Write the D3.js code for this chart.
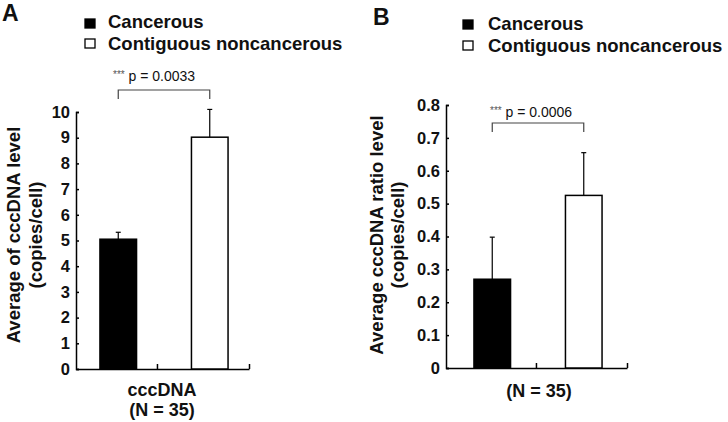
<!DOCTYPE html>
<html>
<head>
<meta charset="utf-8">
<script src="https://cdn.jsdelivr.net/npm/d3@7"></script>
<style>
  body { margin: 0; background: #fff; }
  text { font-family: "Liberation Sans", Arial, sans-serif; fill: #111; }
</style>
</head>
<body>
<svg id="chart"></svg>
<script>
(function() {

    // data
    const groups = ['Cancerous', 'Contiguous noncancerous'];
    const cccdnaMean = [5.05, 9.02];
    const cccdnaErr = [0.27, 1.08];
    const cccdnaTicks = [0, 1, 2, 3, 4, 5, 6, 7, 8, 9, 10];
    const ratioMean = [0.27, 0.525];
    const ratioErr = [0.128, 0.13];
    const ratioTicks = [0, 0.1, 0.2, 0.3, 0.4, 0.5, 0.6, 0.7, 0.8];
    const fills = ['#000', '#fff'];

    const w = 728;
    const h = 422;

    const svg = d3.select('#chart')
        .attr('width', w)
        .attr('height', h);

    const panels = [
        {
            letter: 'A', letterX: 2, letterY: 21,
            legendX: 85, legendY: [19, 39], legendTextX: 108, legendBase: [28, 50],
            means: cccdnaMean, errs: cccdnaErr, ticks: cccdnaTicks, yMax: 10,
            axisX: 76, axisEnd: 249, y0: 369, yTop: 112, midFrac: 0.468,
            bandRange: [72.5, 255.5], tickFmt: d3.format('d'),
            titles: ['Average of cccDNA level', '(copies/cell)'], titleX: [20, 42], titleY: 235,
            pText: 'p = 0.0033', pX: 113, pY: 81, bracketY: 90,
            xLabels: ['cccDNA', '(N = 35)'], xLabelX: 162, xLabelY: [396, 416]
        },
        {
            letter: 'B', letterX: 373, letterY: 25,
            legendX: 463, legendY: [20, 41], legendTextX: 488, legendBase: [30, 52],
            means: ratioMean, errs: ratioErr, ticks: ratioTicks, yMax: 0.8,
            axisX: 446, axisEnd: 627, y0: 368, yTop: 105, midFrac: 0.497,
            bandRange: [446.5, 629.5], tickFmt: d => d === 0 ? '0' : d3.format('.1f')(d),
            titles: ['Average cccDNA ratio level', '(copies/cell)'], titleX: [383, 404], titleY: 235,
            pText: 'p = 0.0006', pX: 490, pY: 117, bracketY: 123,
            xLabels: ['(N = 35)'], xLabelX: 539, xLabelY: [397]
        }
    ];

    panels.forEach(p => {

        const g = svg.append('g');

        // Scales
        const scaleY = d3.scaleLinear().domain([0, p.yMax]).range([p.y0, p.yTop]);
        const scaleX = d3.scaleBand().domain(groups).range(p.bandRange)
            .paddingInner(0.6).paddingOuter(0.3);
        const bw = scaleX.bandwidth();

        // Panel letter
        g.append('text')
            .attr('x', p.letterX).attr('y', p.letterY)
            .style('font-size', '23px').style('font-weight', 'bold')
            .text(p.letter);

        // Legend
        groups.forEach((name, i) => {
            g.append('rect')
                .attr('x', p.legendX).attr('y', p.legendY[i])
                .attr('width', 10).attr('height', 9)
                .style('fill', fills[i]).style('stroke', '#000').style('stroke-width', 1.3);
            g.append('text')
                .attr('x', p.legendTextX).attr('y', p.legendBase[i])
                .style('font-size', '18.5px').style('font-weight', 'bold')
                .text(name);
        });

        // Y axis
        const yAxis = d3.axisLeft(scaleY)
            .tickValues(p.ticks)
            .tickFormat(p.tickFmt)
            .tickSizeInner(-3)
            .tickSizeOuter(-3)
            .tickPadding(6);

        const yg = g.append('g')
            .attr('transform', `translate(${p.axisX}, 0)`)
            .call(yAxis);
        yg.select('.domain').attr('stroke-width', 1.5);
        yg.selectAll('.tick line').attr('stroke-width', 1.5);
        yg.selectAll('.tick text')
            .style('font-size', '16.5px').style('font-weight', 'bold')
            .style('font-family', '"Liberation Sans", Arial, sans-serif')
            .attr('fill', '#111');

        // X axis
        const xLin = d3.scaleLinear().domain([0, 1]).range([p.axisX, p.axisEnd]);
        const xAxis = d3.axisBottom(xLin)
            .tickValues([p.midFrac, 1])
            .tickFormat('')
            .tickSizeInner(-5)
            .tickSizeOuter(0);
        const xg = g.append('g')
            .attr('transform', `translate(0, ${p.y0})`)
            .call(xAxis);
        xg.select('.domain').attr('stroke-width', 1.5);
        xg.selectAll('.tick line').attr('stroke-width', 1.5);

        // Error bars (upper only)
        groups.forEach((name, i) => {
            const cx = scaleX(name) + bw / 2;
            const top = scaleY(p.means[i] + p.errs[i]);
            g.append('line')
                .attr('x1', cx).attr('x2', cx)
                .attr('y1', scaleY(p.means[i])).attr('y2', top)
                .style('stroke', '#000').style('stroke-width', 1.2);
            g.append('line')
                .attr('x1', cx - 2.5).attr('x2', cx + 2.5)
                .attr('y1', top).attr('y2', top)
                .style('stroke', '#000').style('stroke-width', 1.2);
        });

        // Bars
        g.selectAll('.bar')
            .data(groups)
            .enter()
            .append('rect')
            .attr('class', 'bar')
            .attr('x', d => scaleX(d))
            .attr('y', (d, i) => scaleY(p.means[i]))
            .attr('width', bw)
            .attr('height', (d, i) => p.y0 - scaleY(p.means[i]))
            .style('fill', (d, i) => fills[i])
            .style('stroke', '#000')
            .style('stroke-width', 1.5);

        // Significance bracket
        const bx0 = scaleX(groups[0]) + bw / 2;
        const bx1 = scaleX(groups[1]) + bw / 2;
        g.append('path')
            .attr('d', `M${bx0},${p.bracketY + 9}V${p.bracketY}H${bx1}V${p.bracketY + 9}`)
            .style('fill', 'none').style('stroke', '#444').style('stroke-width', 1.2);

        const pt = g.append('text')
            .attr('x', p.pX).attr('y', p.pY)
            .style('font-size', '14px');
        pt.append('tspan').style('font-size', '10px').style('fill', '#555').attr('dy', -3).text('***');
        pt.append('tspan').attr('dy', 3).text(' ' + p.pText);

        // Y axis titles
        p.titles.forEach((t, i) => {
            g.append('text')
                .attr('transform', `translate(${p.titleX[i]}, ${p.titleY}) rotate(-90)`)
                .attr('text-anchor', 'middle')
                .style('font-size', '18.5px').style('font-weight', 'bold')
                .text(t);
        });

        // X axis labels
        p.xLabels.forEach((t, i) => {
            g.append('text')
                .attr('x', p.xLabelX).attr('y', p.xLabelY[i])
                .attr('text-anchor', 'middle')
                .style('font-size', '18px').style('font-weight', 'bold')
                .text(t);
        });
    });

})();
</script>
</body>
</html>
